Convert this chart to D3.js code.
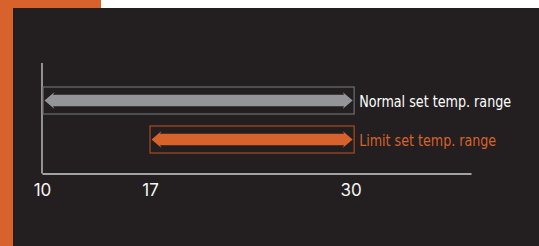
<!DOCTYPE html>
<html><head><meta charset="utf-8">
<script src="https://cdn.jsdelivr.net/npm/d3@7"></script>
<style>
html,body{margin:0;padding:0;background:#fff;}
svg{display:block;}
</style></head>
<body>
<svg id="c" width="539" height="246"></svg>
<script>
// Data
const seriesNames = ["Normal set temp. range", "Limit set temp. range"];
const rangeStart = [10, 17];
const rangeEnd = [30, 30];
const tickValues = [10, 17, 30];
const axisMin = 10, axisMax = 37.8;

const svg = d3.select("#c");
const W = 539, H = 246;
const orange = "#d8622b";

// page decoration
svg.append("rect").attr("x",0).attr("y",0).attr("width",W).attr("height",H).attr("fill","#ffffff");
svg.append("rect").attr("x",0).attr("y",0).attr("width",101).attr("height",8).attr("fill",orange);
svg.append("rect").attr("x",0).attr("y",0).attr("width",13).attr("height",H).attr("fill",orange);
svg.append("rect").attr("x",13).attr("y",8).attr("width",W-13).attr("height",H-8).attr("fill","#231f20");

const x = d3.scaleLinear().domain([axisMin, axisMax]).range([42, 471]);
const y = d3.scaleBand().domain(seriesNames).range([87, 153]).paddingInner(12/39);

// y axis line
svg.append("line").attr("x1",42).attr("x2",42).attr("y1",63).attr("y2",173.5)
  .attr("stroke","#cfcfcf").attr("stroke-width",1.3);

// x axis
const ax = svg.append("g").attr("transform","translate(0,173.5)")
  .call(d3.axisBottom(x).tickValues(tickValues).tickSize(0).tickSizeOuter(0).tickPadding(10).tickFormat(d3.format("d")));
ax.select(".domain").attr("stroke","#cfcfcf").attr("stroke-width",1.5);
ax.attr("font-family", null).attr("font-size", null);
ax.selectAll("text").attr("fill","#f4f4f4")
  .style("font-family","Inter, 'Noto Sans', sans-serif")
  .style("font-size","17px").style("font-weight","400");

const fills = ["#939598", orange];
const strokes = ["#6d6e71", "#a84b22"];
const textFills = ["#ffffff", orange];
const labelWidths = [152, 137];

function arrowPath(x0, x1, cy, shaftH, headH, headL){
  const s = shaftH/2, h = headH/2;
  return `M${x0},${cy} L${x0+headL},${cy-h} L${x0+headL-1.5},${cy-s} L${x1-headL+1.5},${cy-s} L${x1-headL},${cy-h} L${x1},${cy}` +
         ` L${x1-headL},${cy+h} L${x1-headL+1.5},${cy+s} L${x0+headL-1.5},${cy+s} L${x0+headL},${cy+h} Z`;
}

seriesNames.forEach((name, i) => {
  const bx0 = x(rangeStart[i]) + (i===0 ? 1 : 0);
  const bx1 = x(rangeEnd[i]) + 3.5;
  const by = y(name), bh = y.bandwidth();
  const cy = by + bh/2;
  svg.append("rect").attr("x",bx0).attr("y",by).attr("width",bx1-bx0).attr("height",bh)
    .attr("fill","none").attr("stroke",strokes[i]).attr("stroke-width",1.2);
  svg.append("path").attr("d", arrowPath(bx0+1.5, bx1-1.5, cy, 11.5, 17, 10)).attr("fill",fills[i]);
  svg.append("text").attr("x", bx1+5).attr("y", cy+6).text(name)
    .attr("fill", textFills[i])
    .attr("textLength", labelWidths[i]).attr("lengthAdjust","spacingAndGlyphs")
    .style("font-family","'DejaVu Sans Condensed','Liberation Sans Narrow',sans-serif")
    .style("font-size","16px");
});
</script>
</body></html>
